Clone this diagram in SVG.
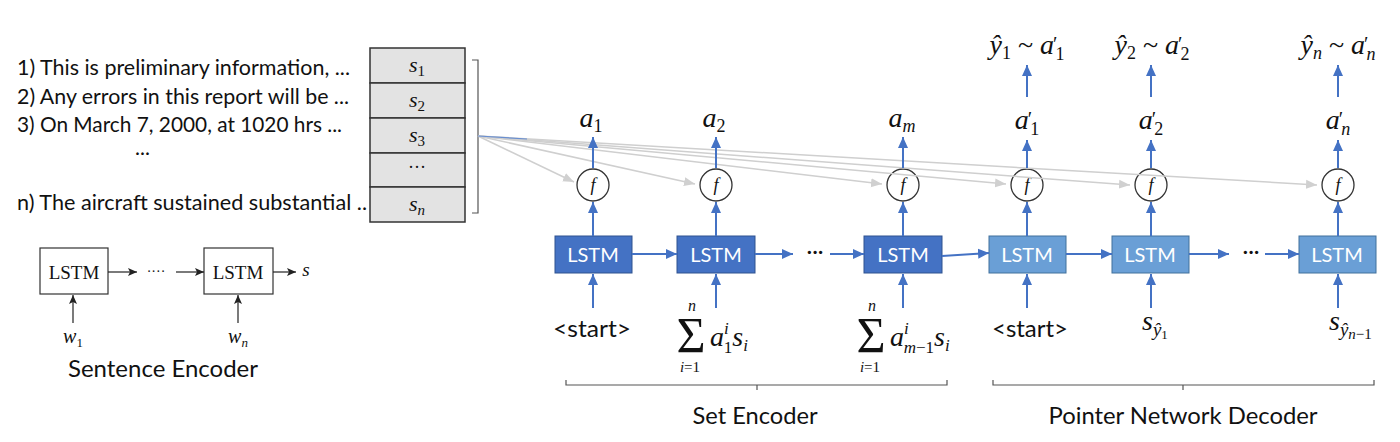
<svg xmlns="http://www.w3.org/2000/svg" width="1400" height="442" viewBox="0 0 1400 442">
<defs>
<marker id="ab" markerUnits="userSpaceOnUse" markerWidth="12" markerHeight="12" refX="11" refY="6" orient="auto"><path d="M0,1 L11,6 L0,11 z" fill="#4472C4"/></marker>
<marker id="ak" markerUnits="userSpaceOnUse" markerWidth="10" markerHeight="10" refX="9" refY="5" orient="auto"><path d="M0,1 L9,5 L0,9 L2,5 z" fill="#222"/></marker>
<marker id="ag" markerUnits="userSpaceOnUse" markerWidth="12" markerHeight="12" refX="11" refY="6" orient="auto"><path d="M0,1.5 L11,6 L0,10.5 z" fill="#d0d0d0"/></marker>
<style>
.sans{font-family:Lato,"Liberation Sans",sans-serif;fill:#111}
.sent{font-size:21px}
.lbl{font-size:24px}
.m{font-family:"Liberation Serif","DejaVu Serif",serif;font-style:italic;fill:#111}
.r{font-family:"Liberation Serif","DejaVu Serif",serif;fill:#111}
.cell{fill:#e3e3e3;stroke:#333;stroke-width:1.5}
.se{fill:#fff;stroke:#333;stroke-width:1.2}
.lstmD{fill:#4472C4;stroke:#2F528F;stroke-width:1}
.lstmL{fill:#6A9FD6;stroke:#41719C;stroke-width:1}
.lt{font-family:Lato,"Open Sans",sans-serif;font-size:20px;fill:#fff;text-anchor:middle}
.f{fill:#fff;stroke:#333;stroke-width:1.3}
.bl{stroke:#4472C4;stroke-width:2;fill:none;marker-end:url(#ab)}
.bk{stroke:#222;stroke-width:1.2;fill:none;marker-end:url(#ak)}
.gr{stroke:#cfcfcf;stroke-width:1.5;fill:none;marker-end:url(#ag)}
.br{stroke:#555;stroke-width:1.2;fill:none}
.pr{font-style:normal;font-size:20px}
</style>
</defs>

<g id="sentences" class="sans sent">
<text x="17" y="75" textLength="333" lengthAdjust="spacingAndGlyphs">1) This is preliminary information, ...</text>
<text x="17" y="104" textLength="332" lengthAdjust="spacingAndGlyphs">2) Any errors in this report will be ...</text>
<text x="17" y="132" textLength="325" lengthAdjust="spacingAndGlyphs">3) On March 7, 2000, at 1020 hrs ...</text>
<text x="135" y="155">...</text>
<text x="17" y="210" textLength="350" lengthAdjust="spacingAndGlyphs">n) The aircraft sustained substantial ..</text>
</g>

<g id="stack">
<rect class="cell" x="370" y="48" width="95" height="35"/>
<rect class="cell" x="370" y="83" width="95" height="35"/>
<rect class="cell" x="370" y="118" width="95" height="35"/>
<rect class="cell" x="370" y="153" width="95" height="34"/>
<rect class="cell" x="370" y="187" width="95" height="35"/>
<text class="m" x="417" y="72" font-size="22" text-anchor="middle">s<tspan font-size="15" dy="4" font-style="normal">1</tspan></text>
<text class="m" x="417" y="107" font-size="22" text-anchor="middle">s<tspan font-size="15" dy="4" font-style="normal">2</tspan></text>
<text class="m" x="417" y="142" font-size="22" text-anchor="middle">s<tspan font-size="15" dy="4" font-style="normal">3</tspan></text>
<text class="r" x="417" y="173" font-size="18" text-anchor="middle">···</text>
<text class="m" x="417" y="211" font-size="22" text-anchor="middle">s<tspan font-size="15" dy="4">n</tspan></text>
<path class="br" d="M472,60 H478 V213 H472" stroke="#8a8a8a"/>
</g>

<g id="sentence-encoder">
<rect class="se" x="40" y="248" width="68" height="46"/>
<rect class="se" x="204" y="248" width="69" height="46"/>
<text class="r" x="74" y="279" font-size="19" text-anchor="middle">LSTM</text>
<text class="r" x="238" y="279" font-size="19" text-anchor="middle">LSTM</text>
<text class="r" x="156" y="276" font-size="14" text-anchor="middle">····</text>
<text class="m" x="306" y="276" font-size="19" text-anchor="middle">s</text>
<text class="m" x="73" y="343" font-size="20" text-anchor="middle">w<tspan font-size="13" dy="4" font-style="normal">1</tspan></text>
<text class="m" x="238" y="343" font-size="20" text-anchor="middle">w<tspan font-size="13" dy="4">n</tspan></text>
<text class="sans lbl" x="163" y="377" text-anchor="middle" textLength="190" lengthAdjust="spacingAndGlyphs">Sentence Encoder</text>
</g>

<g id="lstm-enc">
<rect class="lstmD" x="555" y="236" width="77" height="37"/>
<rect class="lstmD" x="677" y="236" width="78" height="37"/>
<rect class="lstmD" x="864" y="236" width="78" height="37"/>
<text class="lt" x="593" y="262">LSTM</text>
<text class="lt" x="716" y="262">LSTM</text>
<text class="lt" x="903" y="262">LSTM</text>
<text class="sans" x="815" y="259" font-size="22" text-anchor="middle">···</text>
</g>

<g id="lstm-dec">
<rect class="lstmL" x="989" y="236" width="77" height="37"/>
<rect class="lstmL" x="1112" y="236" width="77" height="37"/>
<rect class="lstmL" x="1299" y="236" width="77" height="37"/>
<text class="lt" x="1027" y="262">LSTM</text>
<text class="lt" x="1150" y="262">LSTM</text>
<text class="lt" x="1337" y="262">LSTM</text>
<text class="sans" x="1251" y="259" font-size="22" text-anchor="middle">···</text>
</g>

<g id="f-nodes">
<circle class="f" cx="593" cy="185" r="16"/>
<circle class="f" cx="716" cy="185" r="16"/>
<circle class="f" cx="903" cy="185" r="16"/>
<circle class="f" cx="1027" cy="185" r="16"/>
<circle class="f" cx="1151" cy="185" r="16"/>
<circle class="f" cx="1338" cy="185" r="16"/>
<g class="m" font-size="18" text-anchor="middle">
<text x="593" y="191">f</text><text x="716" y="191">f</text><text x="903" y="191">f</text>
<text x="1027" y="191">f</text><text x="1151" y="191">f</text><text x="1338" y="191">f</text>
</g>
</g>

<g id="outputs" class="m" font-size="28">
<text x="591" y="127" text-anchor="middle">a<tspan font-size="18" dy="5" font-style="normal">1</tspan></text>
<text x="714" y="127" text-anchor="middle">a<tspan font-size="18" dy="5" font-style="normal">2</tspan></text>
<text x="902" y="127" text-anchor="middle">a<tspan font-size="18" dy="5">m</tspan></text>
<text x="1027" y="129" text-anchor="middle">a<tspan class="pr" dx="-1" dy="-3">′</tspan><tspan font-size="18" dx="-2" dy="9" font-style="normal">1</tspan></text>
<text x="1151" y="129" text-anchor="middle">a<tspan class="pr" dx="-1" dy="-3">′</tspan><tspan font-size="18" dx="-2" dy="9" font-style="normal">2</tspan></text>
<text x="1338" y="129" text-anchor="middle">a<tspan class="pr" dx="-1" dy="-3">′</tspan><tspan font-size="18" dx="-2" dy="9">n</tspan></text>
<text x="1027" y="54" text-anchor="middle">ŷ<tspan font-size="18" dy="5" font-style="normal">1</tspan><tspan dy="-5" font-style="normal"> ~ </tspan>a<tspan class="pr" dx="-1" dy="-3">′</tspan><tspan font-size="18" dx="-2" dy="9" font-style="normal">1</tspan></text>
<text x="1152" y="54" text-anchor="middle">ŷ<tspan font-size="18" dy="5" font-style="normal">2</tspan><tspan dy="-5" font-style="normal"> ~ </tspan>a<tspan class="pr" dx="-1" dy="-3">′</tspan><tspan font-size="18" dx="-2" dy="9" font-style="normal">2</tspan></text>
<text x="1338" y="54" text-anchor="middle">ŷ<tspan font-size="18" dy="5">n</tspan><tspan dy="-5" font-style="normal"> ~ </tspan>a<tspan class="pr" dx="-1" dy="-3">′</tspan><tspan font-size="18" dx="-2" dy="9">n</tspan></text>
</g>

<g id="inputs">
<text class="sans" x="592" y="337" font-size="23" text-anchor="middle" textLength="78" lengthAdjust="spacingAndGlyphs">&lt;start&gt;</text>
<text class="sans" x="1030" y="337" font-size="23" text-anchor="middle" textLength="76" lengthAdjust="spacingAndGlyphs">&lt;start&gt;</text>
<text class="r" x="691" y="352" font-size="50" text-anchor="middle">Σ<tspan class="m" font-size="16" x="692" y="311">n</tspan><tspan class="m" font-size="15" x="690" y="372">i<tspan font-style="normal">=1</tspan></tspan></text>
<text class="m" x="710" y="346" font-size="28">a<tspan font-size="17" dy="-12">i</tspan><tspan font-size="17" dx="-5" dy="19" font-style="normal">1</tspan><tspan dy="-7">s</tspan><tspan font-size="17" dy="5">i</tspan></text>
<text class="r" x="871" y="352" font-size="50" text-anchor="middle">Σ<tspan class="m" font-size="16" x="872" y="311">n</tspan><tspan class="m" font-size="15" x="870" y="372">i<tspan font-style="normal">=1</tspan></tspan></text>
<text class="m" x="890" y="346" font-size="28">a<tspan font-size="17" dy="-12">i</tspan><tspan font-size="17" dx="-5" dy="19">m<tspan font-style="normal">−1</tspan></tspan><tspan dy="-7">s</tspan><tspan font-size="17" dy="5">i</tspan></text>
<text class="m" x="1142" y="330" font-size="28">s<tspan font-size="19" dy="6">ŷ</tspan><tspan font-size="13" dy="3" font-style="normal">1</tspan></text>
<text class="m" x="1329" y="330" font-size="28">s<tspan font-size="19" dy="6">ŷ</tspan><tspan font-size="15" dy="3">n<tspan font-style="normal">−1</tspan></tspan></text>
</g>

<g id="connectors">
<g id="fan">
<line class="gr" x1="478" y1="136" x2="574" y2="182"/>
<line class="gr" x1="478" y1="136" x2="695" y2="184"/>
<line class="gr" x1="478" y1="136" x2="882" y2="184"/>
<line class="gr" x1="478" y1="136" x2="1006" y2="184"/>
<line class="gr" x1="478" y1="136" x2="1130" y2="185"/>
<line class="gr" x1="478" y1="136" x2="1317" y2="185"/>
<line x1="478" y1="136" x2="527" y2="139" stroke="#6a8fd0" stroke-width="1.2"/>
</g>
<g id="se-arrows">
<line class="bk" x1="108" y1="272" x2="137" y2="272"/>
<line class="bk" x1="176" y1="272" x2="204" y2="272"/>
<line class="bk" x1="273" y1="272" x2="296" y2="272"/>
<line class="bk" x1="73" y1="323" x2="73" y2="295"/>
<line class="bk" x1="238" y1="323" x2="238" y2="295"/>
</g>
<g id="blue-arrows">
<line class="bl" x1="593" y1="308" x2="593" y2="274"/>
<line class="bl" x1="716" y1="308" x2="716" y2="274"/>
<line class="bl" x1="903" y1="308" x2="903" y2="274"/>
<line class="bl" x1="1027" y1="308" x2="1027" y2="274"/>
<line class="bl" x1="1151" y1="308" x2="1151" y2="274"/>
<line class="bl" x1="1338" y1="308" x2="1338" y2="274"/>
<line class="bl" x1="593" y1="236" x2="593" y2="202"/>
<line class="bl" x1="716" y1="236" x2="716" y2="202"/>
<line class="bl" x1="903" y1="236" x2="903" y2="202"/>
<line class="bl" x1="1027" y1="236" x2="1027" y2="202"/>
<line class="bl" x1="1151" y1="236" x2="1151" y2="202"/>
<line class="bl" x1="1338" y1="236" x2="1338" y2="202"/>
<line class="bl" x1="593" y1="168" x2="593" y2="137"/>
<line class="bl" x1="716" y1="168" x2="716" y2="137"/>
<line class="bl" x1="903" y1="168" x2="903" y2="137"/>
<line class="bl" x1="1027" y1="168" x2="1027" y2="140"/>
<line class="bl" x1="1151" y1="168" x2="1151" y2="140"/>
<line class="bl" x1="1338" y1="168" x2="1338" y2="140"/>
<line class="bl" x1="1027" y1="97" x2="1027" y2="65"/>
<line class="bl" x1="1151" y1="97" x2="1151" y2="65"/>
<line class="bl" x1="1338" y1="97" x2="1338" y2="65"/>
<line class="bl" x1="632" y1="254" x2="677" y2="254"/>
<line class="bl" x1="755" y1="254" x2="793" y2="254"/>
<line class="bl" x1="830" y1="254" x2="864" y2="254"/>
<line class="bl" x1="942" y1="256" x2="989" y2="253"/>
<line class="bl" x1="1066" y1="254" x2="1112" y2="254"/>
<line class="bl" x1="1189" y1="254" x2="1229" y2="254"/>
<line class="bl" x1="1265" y1="254" x2="1299" y2="254"/>
</g>
</g>

<g id="group-labels">
<path class="br" d="M566,380 V385 H947 V380 M757,385 V390"/>
<path class="br" d="M993,380 V385 H1374 V380 M1183,385 V390"/>
<text class="sans lbl" x="755" y="424" text-anchor="middle" textLength="125" lengthAdjust="spacingAndGlyphs">Set Encoder</text>
<text class="sans lbl" x="1183" y="424" text-anchor="middle" textLength="269" lengthAdjust="spacingAndGlyphs">Pointer Network Decoder</text>
</g>
</svg>
